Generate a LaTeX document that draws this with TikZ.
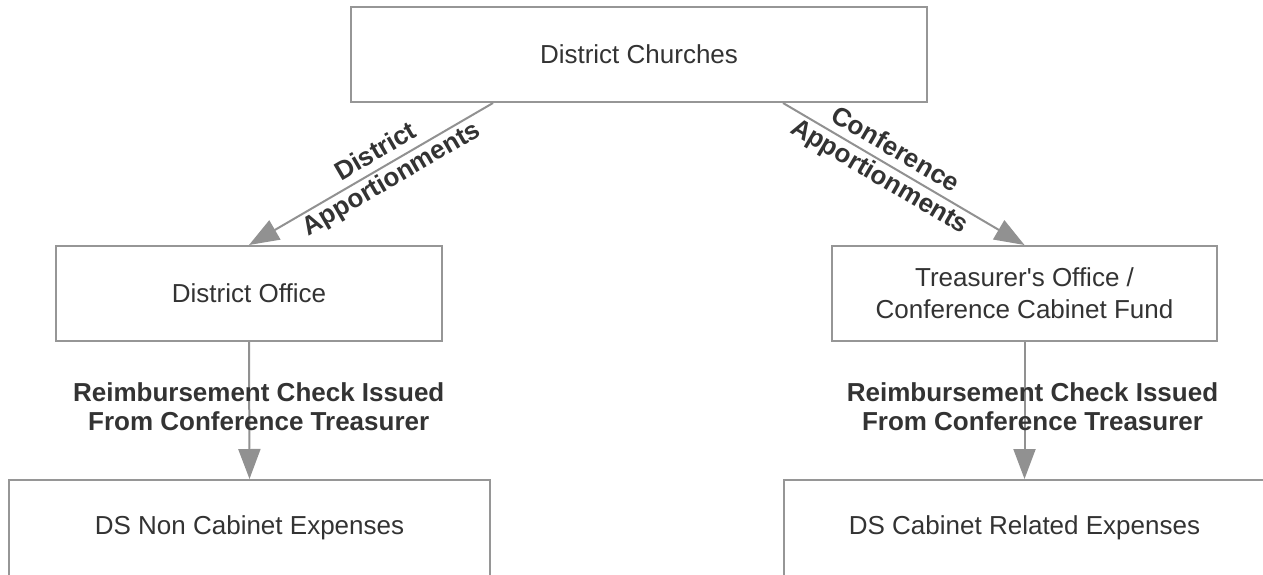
\documentclass[tikz,border=0pt]{standalone}
\usepackage{fontspec}
\setmainfont{Liberation Sans}[Ligatures=TeXOff]
\usetikzlibrary{arrows.meta}
\definecolor{boxgray}{RGB}{150,150,150}
\definecolor{linegray}{RGB}{145,145,145}
\definecolor{txt}{RGB}{51,51,51}
\begin{document}
\begin{tikzpicture}[x=1pt,y=-1pt,
  box/.style={draw=boxgray, line width=2pt, fill=white, text=txt, align=center,
    font=\fontsize{26}{32}\selectfont, inner sep=0pt},
  arr/.style={draw=linegray, line width=2pt,
    -{Triangle[length=30pt,width=22pt,fill=linegray]}},
  lab/.style={text=txt, align=center, font=\fontsize{26}{29}\selectfont\bfseries, inner sep=0pt},
  dlab/.style={text=txt, align=center, font=\fontsize{26}{31}\selectfont\bfseries, inner sep=0pt, sloped}
]
\useasboundingbox (0,0) rectangle (1263,575);
\node[box, minimum width=576pt, minimum height=95pt] (top) at (639,54.5) {District Churches};
\node[box, minimum width=386pt, minimum height=95pt] (office) at (249,293.5) {District Office};
\node[box, minimum width=385pt, minimum height=95pt] (treas) at (1024.5,293.5) {Treasurer's Office /\\Conference Cabinet Fund};
\node[box, minimum width=481pt, minimum height=96pt] (dsnon) at (249.5,528) {DS Non Cabinet Expenses};
\node[box, minimum width=481pt, minimum height=96pt] (dscab) at (1024.5,528) {DS Cabinet Related Expenses};

\draw[arr] ([xshift=-146pt]top.south) -- node[dlab, pos=0.446] {District\\Apportionments} (office.north);
\draw[arr] ([xshift=144pt]top.south) -- node[dlab, pos=0.43] {Conference\\Apportionments} (treas.north);
\draw[arr] (office.south) -- node[lab, pos=0.47, xshift=9.5pt] {Reimbursement Check Issued\\From Conference Treasurer} (dsnon.north);
\draw[arr] (treas.south) -- node[lab, pos=0.47, xshift=8pt] {Reimbursement Check Issued\\From Conference Treasurer} (dscab.north);
\end{tikzpicture}
\end{document}
